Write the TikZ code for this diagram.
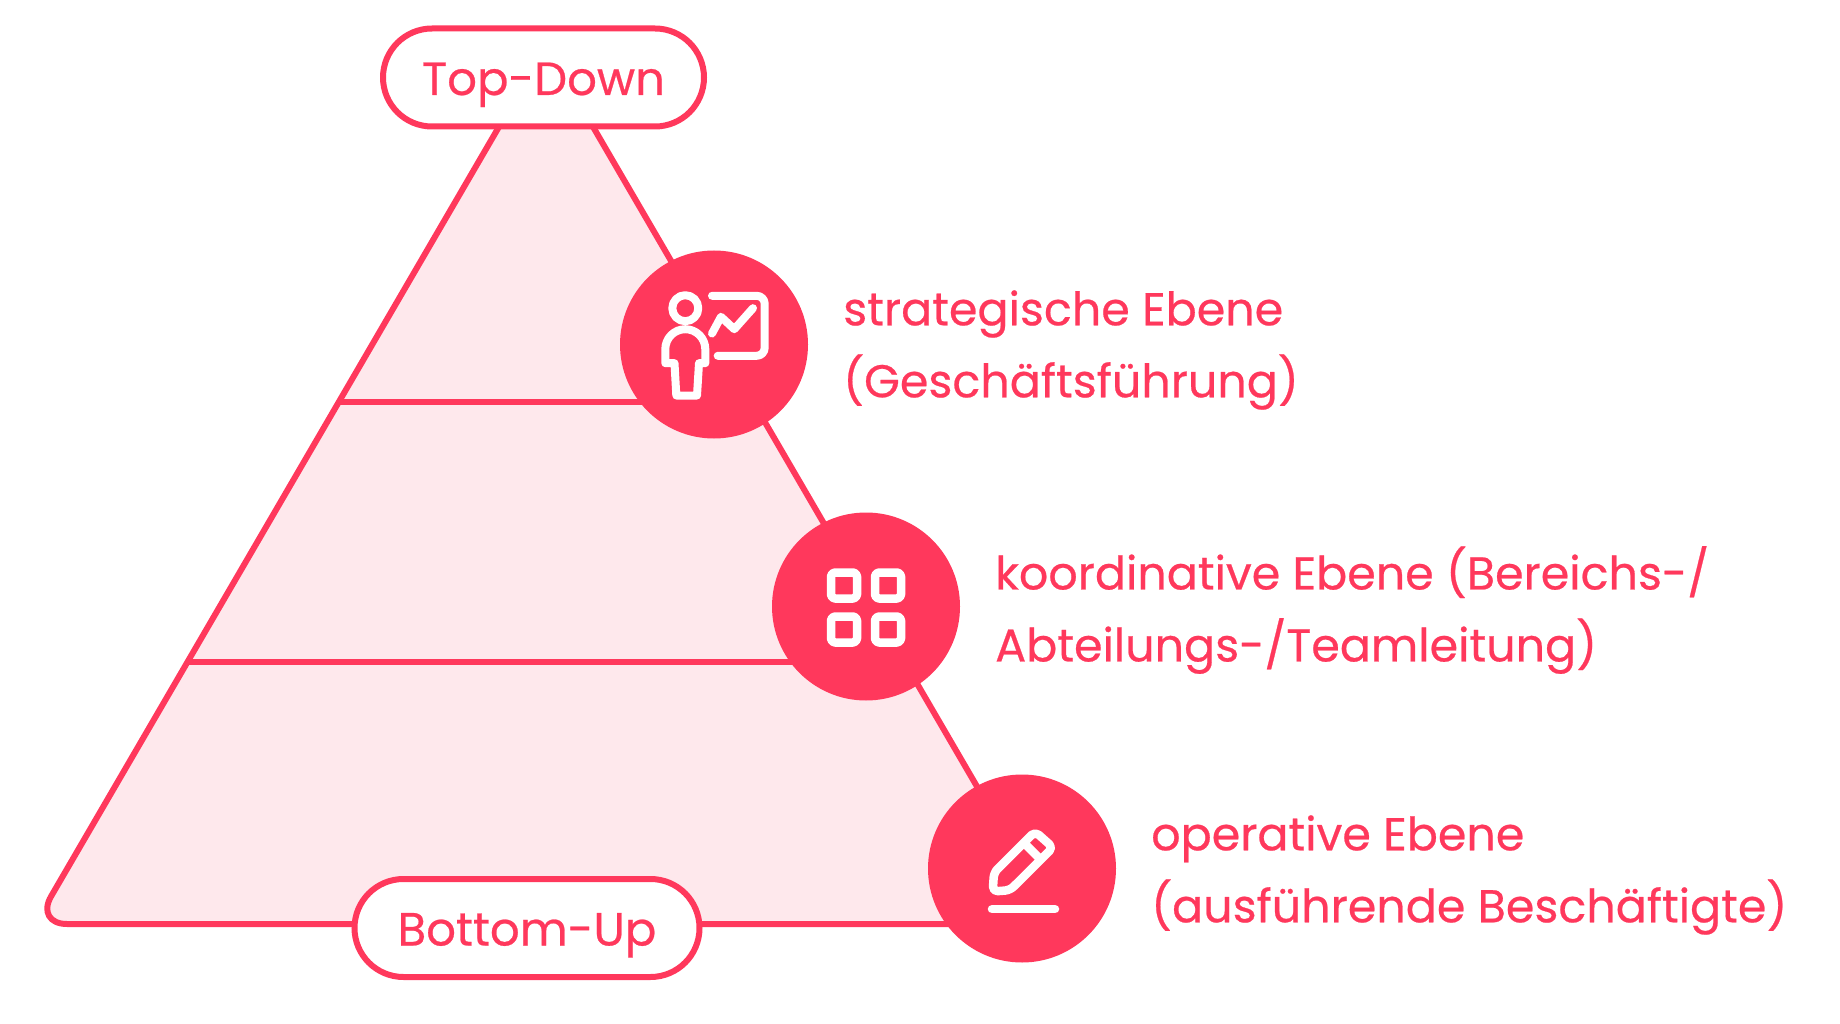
\documentclass[tikz,border=0pt]{standalone}
\usepackage{fontspec}
\setmainfont{Poppins}[FakeBold=0.5]
\usetikzlibrary{backgrounds}
\definecolor{ebenered}{HTML}{FF385C}
\definecolor{ebenepink}{HTML}{FEE8EC}
\tikzset{
  pill/.style={draw=ebenered, fill=white, line width=6pt, rounded corners=49pt, inner sep=0pt, minimum height=98pt, text height=35pt, text depth=0pt, text=ebenered, font=\fontsize{46.6}{54}\selectfont},
  iconbg/.style={circle, fill=ebenered, minimum size=188pt, inner sep=0pt},
  label/.style={anchor=west, align=left, inner sep=0pt, text=ebenered, font=\fontsize{46}{72}\selectfont},
  rim/.style={draw=ebenered, line width=6pt},
  glyph/.style={draw=white, line width=8pt, line cap=round, line join=round},
}
\begin{document}
\begin{tikzpicture}[x=1pt, y=-1pt]
\useasboundingbox (0,0) rectangle (1840,1024);
\node [pill, minimum width=321pt] (topdown) at (543.5,77.5) {Top-Down};
\node [pill, minimum width=345pt] (bottomup) at (527,928) {Bottom-Up};
\node [iconbg] (strategisch) at (714,344.5) {};
\node [iconbg] (koordinativ) at (866,606.5) {};
\node [iconbg] (operativ) at (1022,868.5) {};
\coordinate (apex) at (546,46);
\coordinate (baseL) at (35,924);
\coordinate (baseR) at (1057,924);
\coordinate (lineA) at (339,402);
\coordinate (lineB) at (187.5,662);
% pyramid behind the nodes
\begin{scope}[on background layer]
\draw [rim, fill=ebenepink, rounded corners=32pt] (apex) -- (baseL) -- (baseR) -- cycle;
\draw [rim] (lineA) -- (lineA -| strategisch);
\draw [rim] (lineB) -- (lineB -| koordinativ);
\end{scope}
% presenter
\begin{scope}[shift={(strategisch.center)}]
\draw [glyph] (-28.7,-36.3) circle (13);
\draw [glyph] (-48.7,4.7) arc (180:360:20) -- (-8.7,18.7) -- (-15,18.7) -- (-17,51) -- (-37.7,51) -- (-39.5,18.7) -- (-48.7,18.7) -- cycle;
\draw [glyph, rounded corners=8pt] (-2,-48.7) -- (50.7,-48.7) -- (50.7,11.3) -- (3.7,11.3);
\draw [glyph] (-2,-11) -- (7,-27.7) -- (20.3,-15.3) -- (39,-36.3);
\end{scope}
% grid
\begin{scope}[shift={(koordinativ.center)}]
\draw [glyph, line width=8.5pt, rounded corners=4pt] (-35,-34) rectangle (-9,-8);
\draw [glyph, line width=8.5pt, rounded corners=4pt] (9,-34) rectangle (35,-8);
\draw [glyph, line width=8.5pt, rounded corners=4pt] (-35,10) rectangle (-9,36);
\draw [glyph, line width=8.5pt, rounded corners=4pt] (9,10) rectangle (35,36);
\end{scope}
% pencil
\begin{scope}[shift={(operativ.center)}]
\draw [glyph, line width=8.5pt, rounded corners=5pt] (-29.3,23) -- (-28,4) -- (13,-37) -- (31,-21) -- (-12,21.7) -- cycle;
\draw [glyph, line width=8.5pt, line cap=butt] (4,-23.7) -- (20.7,-7);
\draw [glyph, line width=8.5pt] (-30,40.7) -- (33,40.7);
\end{scope}
\node [label] (labelA) at (843,350) {strategische Ebene\\(Geschäftsführung)};
\node [label] (labelB) at (995,610) {koordinative Ebene (Bereichs-/\\Abteilungs-/Teamleitung)};
\node [label] (labelC) at (1151,875) {operative Ebene\\(ausführende Beschäftigte)};
\end{tikzpicture}
\end{document}
